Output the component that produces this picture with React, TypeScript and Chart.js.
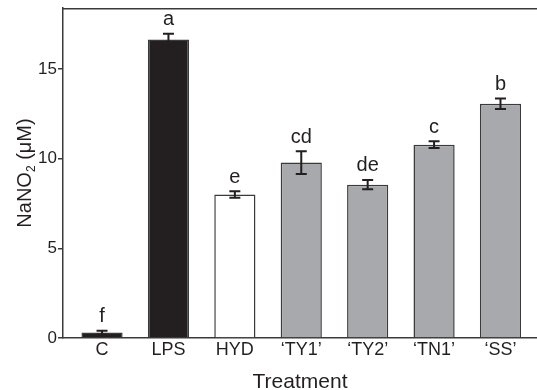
import { useEffect, useRef } from 'react';
import { Chart, registerables } from 'chart.js';

Chart.register(...registerables);

const categories = ['C', 'LPS', 'HYD', '\u2018TY1\u2019', '\u2018TY2\u2019', '\u2018TN1\u2019', '\u2018SS\u2019'];
const means = [0.3, 16.65, 8.0, 9.78, 8.55, 10.78, 13.06];
const errors = [0.1, 0.32, 0.18, 0.63, 0.26, 0.19, 0.29];
const letters = ['f', 'a', 'e', 'cd', 'de', 'c', 'b'];
const yTicks = [0, 5, 10, 15];
const groups = ['control', 'control', 'drug', 'extract', 'extract', 'extract', 'extract'];

const FONT = '"Liberation Sans", Arial, Helvetica, sans-serif';
const INK = '#231f20';
const AXIS = '#3a3a3a';
const groupColor: Record<string, string> = {
  control: '#231f20',
  drug: '#ffffff',
  extract: '#a7a9ac',
};

const overlayPlugin = {
  id: 'overlay',
  afterDatasetsDraw(chart: any) {
    const { ctx, chartArea } = chart;
    const x = chart.scales.x;
    const y = chart.scales.y;
    ctx.save();
    // top frame line
    ctx.strokeStyle = AXIS;
    ctx.lineWidth = 1.5;
    ctx.beginPath();
    ctx.moveTo(chartArea.left, chartArea.top + 0.75);
    ctx.lineTo(chartArea.right, chartArea.top + 0.75);
    ctx.stroke();

    // error bars + letters
    means.forEach((m, i) => {
      const px = x.getPixelForValue(i);
      const top = y.getPixelForValue(m + errors[i]);
      const bot = y.getPixelForValue(Math.max(0, m - errors[i]));
      ctx.strokeStyle = INK;
      ctx.lineWidth = 2;
      ctx.beginPath();
      ctx.moveTo(px, top);
      ctx.lineTo(px, bot);
      ctx.moveTo(px - 5.5, top);
      ctx.lineTo(px + 5.5, top);
      ctx.moveTo(px - 5.5, bot);
      ctx.lineTo(px + 5.5, bot);
      ctx.stroke();
      ctx.fillStyle = INK;
      ctx.font = `20px ${FONT}`;
      ctx.textAlign = 'center';
      ctx.textBaseline = 'alphabetic';
      ctx.fillText(letters[i], px, top - 8.5);
    });

    // x title
    ctx.fillStyle = INK;
    ctx.font = `21px ${FONT}`;
    ctx.textAlign = 'center';
    ctx.textBaseline = 'alphabetic';
    ctx.fillText('Treatment', (chartArea.left + chartArea.right) / 2, 388);

    // y title with subscript
    const p1 = 'NaNO';
    const p2 = '2';
    const p3 = ' (\u03bcM)';
    const big = `20px ${FONT}`;
    const small = `12px ${FONT}`;
    ctx.font = big;
    const w1 = ctx.measureText(p1).width;
    const w3 = ctx.measureText(p3).width;
    ctx.font = small;
    const w2 = ctx.measureText(p2).width;
    const total = w1 + w2 + w3;
    ctx.translate(30.5, (chartArea.top + chartArea.bottom) / 2);
    ctx.rotate(-Math.PI / 2);
    ctx.textAlign = 'left';
    let cx = -total / 2;
    ctx.font = big;
    ctx.fillText(p1, cx, 0);
    cx += w1;
    ctx.font = small;
    ctx.fillText(p2, cx, 4);
    cx += w2;
    ctx.font = big;
    ctx.fillText(p3, cx, 0);
    ctx.restore();
  },
};

export default function App() {
  const ref = useRef<HTMLCanvasElement | null>(null);
  useEffect(() => {
    document.body.style.margin = '0';
    const canvas = ref.current;
    if (!canvas) return;
    const chart = new Chart(canvas, {
      type: 'bar',
      data: {
        datasets: [
          {
            data: means.map((m, i) => ({ x: i, y: m })),
            backgroundColor: groups.map((g) => groupColor[g]),
            borderColor: AXIS,
            borderWidth: 1.5,
            barPercentage: 0.62,
            categoryPercentage: 1,
          },
        ],
      },
      options: {
        responsive: false,
        animation: false,
        devicePixelRatio: 1,
        layout: { padding: { top: 8, right: 0, bottom: 0, left: 0 } },
        plugins: {
          legend: { display: false },
          tooltip: { enabled: false },
          title: { display: false },
        },
        scales: {
          x: {
            type: 'linear',
            offset: false,
            min: -0.588,
            max: 6.55,
            afterBuildTicks: (s: any) => {
              s.ticks = categories.map((_, i) => ({ value: i }));
            },
            afterFit: (s: any) => {
              s.height = 52;
              s.paddingLeft = 0;
              s.paddingRight = 0;
            },
            ticks: {
              callback: (v: any) => categories[v as number] ?? '',
              font: { family: FONT, size: 18 },
              color: INK,
              padding: 1,
              autoSkip: false,
              maxRotation: 0,
            },
            grid: { display: true, offset: false, drawOnChartArea: false, drawTicks: false },
            border: { display: true, color: AXIS, width: 1.5 },
          },
          y: {
            min: 0,
            max: 18.4,
            afterBuildTicks: (s: any) => {
              s.ticks = yTicks.map((v) => ({ value: v }));
            },
            afterFit: (s: any) => {
              s.width = 63;
              s.paddingTop = 0;
              s.paddingBottom = 0;
            },
            ticks: {
              font: { family: FONT, size: 17 },
              color: INK,
              padding: 1,
            },
            grid: {
              display: true,
              drawOnChartArea: false,
              drawTicks: true,
              tickLength: 5,
              color: AXIS,
              lineWidth: 1.5,
            },
            border: { display: true, color: AXIS, width: 1.5 },
          },
        },
      },
      plugins: [overlayPlugin],
    });
    return () => chart.destroy();
  }, []);
  return <canvas ref={ref} width={537} height={390} style={{ display: 'block' }} />;
}
